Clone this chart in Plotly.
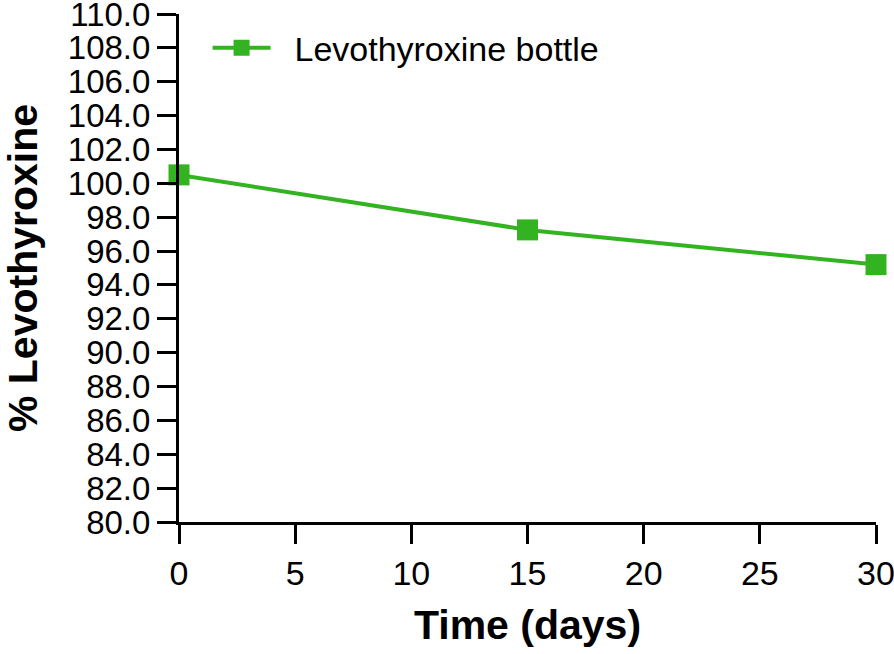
import plotly.graph_objects as go

days = [0, 15, 30]
levo_pct = [100.5, 97.25, 95.2]
series_name = "Levothyroxine bottle"
y_ticks = [80 + 2 * i for i in range(16)]
y_tick_labels = [f"{v:.1f}" for v in y_ticks]
x_ticks = [0, 5, 10, 15, 20, 25, 30]

green = "#33B321"

fig = go.Figure()
fig.add_trace(go.Scatter(
    x=days, y=levo_pct, name="\u00a0\u00a0" + series_name, mode="lines+markers",
    line=dict(color=green, width=4),
    marker=dict(symbol="square", size=21, color=green),
    cliponaxis=False,
))

fig.update_layout(
    width=894, height=654,
    margin=dict(l=179, r=18, t=14, b=132, autoexpand=False),
    paper_bgcolor="white", plot_bgcolor="white",
    font=dict(family="Liberation Sans, Arial, sans-serif", color="black"),
    showlegend=True,
    legend=dict(x=0.041, y=0.99, xanchor="left", yanchor="top",
                font=dict(size=34), bgcolor="rgba(0,0,0,0)",
                itemwidth=58),
)
fig.update_xaxes(
    range=[0, 30], tickvals=x_ticks, showgrid=False, zeroline=False,
    showline=True, linecolor="black", linewidth=3,
    ticks="outside", ticklen=19, tickwidth=3, tickcolor="black",
    tickfont=dict(size=34), ticklabeloverflow="allow", automargin=False,
    title=dict(text="<b>Time (days)</b>", font=dict(size=41), standoff=20),
)
fig.update_yaxes(
    range=[80, 110], tickvals=y_ticks, ticktext=y_tick_labels,
    showgrid=False, zeroline=False,
    showline=True, linecolor="black", linewidth=3,
    ticks="outside", ticklen=19, tickwidth=3, tickcolor="black",
    tickfont=dict(size=33), ticklabeloverflow="allow", automargin=False,
    title=dict(text="<b>% Levothyroxine</b>", font=dict(size=41), standoff=22),
)

fig.write_html("out.html", config={"displayModeBar": False},
               post_script="document.body.style.margin='0';")
